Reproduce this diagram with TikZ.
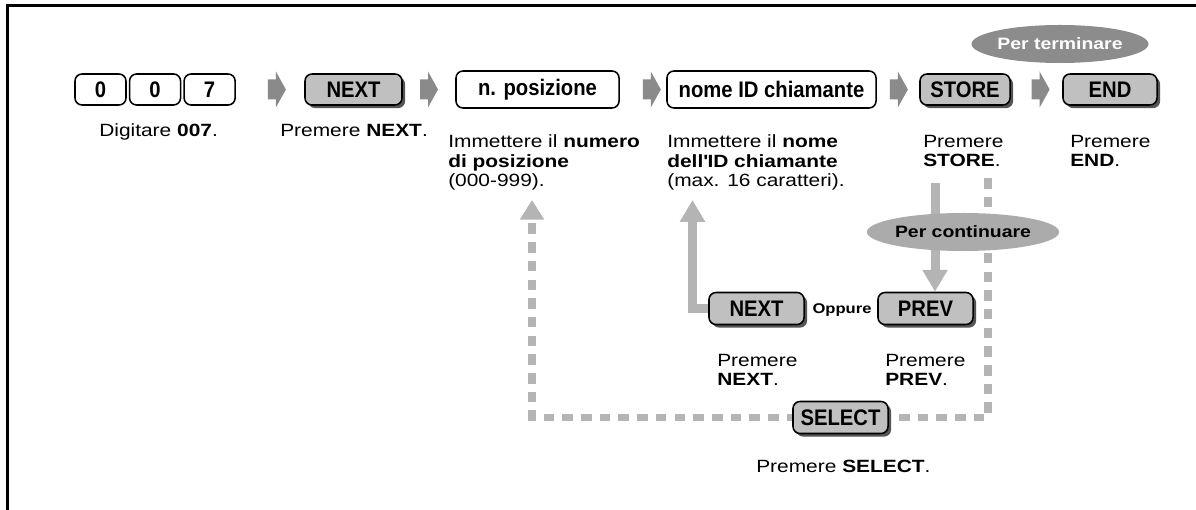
\documentclass[tikz,border=0pt]{standalone}
\usepackage{fontspec}
\setmainfont[FakeStretch=1.18]{Liberation Sans}
\newfontfamily\keyfont[FakeStretch=0.9]{Liberation Sans}
\usepackage{xcolor}
\usepackage{tikz}
\usetikzlibrary{positioning, arrows.meta, shapes.geometric, shadows, backgrounds}

\definecolor{keygray}{HTML}{C0C0C0}
\definecolor{shadegray}{HTML}{555555}
\definecolor{stepgray}{HTML}{8A8A8A}
\definecolor{linkgray}{HTML}{B4B4B4}
\definecolor{endgray}{HTML}{8C8C8C}
\definecolor{contgray}{HTML}{ABABAB}

\begin{document}
\begin{tikzpicture}[
    x=0.025cm, y=-0.025cm,
    every node/.style={inner sep=0pt},
    desc/.style={font=\fontsize{12.6}{14.2}\selectfont, align=left, anchor=base west},
    key/.style={draw, line width=1.1pt, rounded corners=5pt, minimum height=0.775cm,
        font=\keyfont\bfseries\fontsize{16}{17}\selectfont},
    graykey/.style={key, fill=keygray, drop shadow={shadow xshift=2.2pt, shadow yshift=-2.2pt, fill=shadegray, opacity=1}},
    tag/.style={ellipse, minimum height=0.95cm, font=\bfseries\fontsize{11.7}{13}\selectfont},
    steparrow/.pic={\fill[stepgray] (-9,-10) -- (-1,-10) -- (-1,-18) -- (9,0) -- (-1,18) -- (-1,10) -- (-9,10) -- cycle;},
    linkarrow/.style={draw=linkgray, line width=6.4pt, -{Triangle[width=17pt, length=15.5pt]}},
    dashlink/.style={draw=linkgray, line width=5.3pt, dash pattern=on 7.5pt off 5.8pt, -{Triangle[width=16.5pt, length=14pt]}},
]
    \useasboundingbox (0,0) rectangle (1196,510);
    \draw[line width=2.1pt] (7.5,510) -- (7.5,5.5) -- (1196,5.5);

    % --- keys, top row ---
    \node[key, minimum width=1.275cm] (k0a) at (100.5,89.5) {0};
    \node[key, minimum width=1.275cm, right=0.05cm of k0a] (k0b) {0};
    \node[key, minimum width=1.275cm, right=0.05cm of k0b] (k7) {7};
    \node[graykey, minimum width=2.425cm] (next) at (353.5,89.5) {NEXT};
    \node[key, minimum width=4.075cm, minimum height=0.925cm] (pos) at (537.5,89.5) {n. posizione};
    \node[key, minimum width=5.225cm, minimum height=0.925cm] (nome) at (771.5,89.5) {nome ID chiamante};
    \node[graykey, minimum width=2.25cm] (store) at (965,89.5) {STORE};
    \node[graykey, minimum width=2.35cm] (end) at (1110,89.5) {END};
    \node[tag, fill=endgray, text=white, minimum width=3.85cm] (term) at (1060,44) {Per terminare};

    \path (k7) -- (next) pic[pos=0.6] {steparrow};
    \path (next) -- (pos) pic[pos=0.5] {steparrow};
    \path (pos) -- (nome) pic[pos=0.69] {steparrow};
    \path (nome) -- (store) pic[pos=0.52] {steparrow};
    \path (store) -- (end) pic[pos=0.58] {steparrow};

    % --- descriptions (base = last line) ---
    \node[desc] (d007) at (99,137) {Digitare \textbf{007}.};
    \node[desc] (dnext) at (280,137) {Premere \textbf{NEXT}.};
    \node[desc] (dpos) at (448,187) {Immettere il \textbf{numero}\\\textbf{di posizione}\\(000-999).};
    \node[desc] (dnome) at (667,187) {Immettere il \textbf{nome}\\\textbf{dell\textquotesingle ID chiamante}\\(max. 16 caratteri).};
    \node[desc] (dstore) at (923,167) {Premere\\\textbf{STORE}.};
    \node[desc] (dend) at (1070,167) {Premere\\\textbf{END}.};

    % --- loop back ---
    \node[tag, fill=contgray, minimum width=3.925cm] (cont) at (963,232) {Per continuare};
    \node[graykey, minimum width=2.375cm, minimum height=0.8cm] (next2) at (756.5,308.5) {NEXT};
    \node[graykey, minimum width=2.375cm, minimum height=0.8cm] (prev) at (925.5,308.5) {PREV};
    \node[font=\bfseries\fontsize{10}{11}\selectfont] (or) at (842,310) {Oppure};
    \node[graykey, minimum width=2.375cm, minimum height=0.8cm] (select) at (840.5,417.5) {SELECT};
    \node[desc] (dnext2) at (717,386) {Premere\\\textbf{NEXT}.};
    \node[desc] (dprev) at (885,386) {Premere\\\textbf{PREV}.};
    \node[desc] (dselect) at (756,472) {Premere \textbf{SELECT}.};

    \coordinate (storeOut) at (935,183);
    \coordinate (loopOut) at (988,178);
    \coordinate (posIn) at (532,200);
    \coordinate (nomeIn) at (692.5,200);

    \begin{scope}[on background layer]
        \draw[linkarrow] (storeOut) -- (storeOut |- prev.north);
        \draw[linkarrow] (next2.west) -| (nomeIn);
        \draw[dashlink] (loopOut) |- (select.center) -| (posIn);
    \end{scope}
\end{tikzpicture}
\end{document}
